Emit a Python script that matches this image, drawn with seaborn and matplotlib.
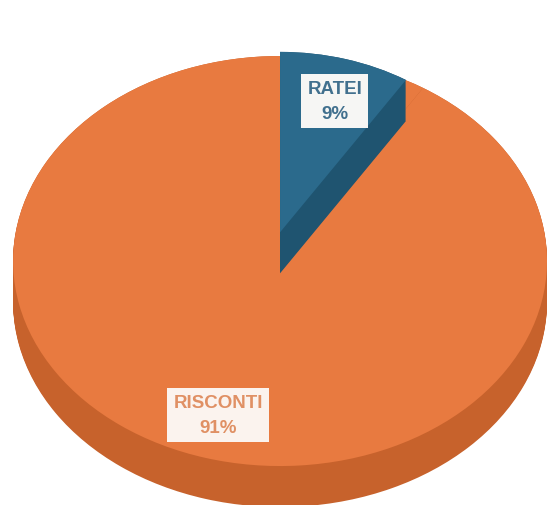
import numpy as np
import matplotlib.pyplot as plt
import seaborn as sns

# data
labels = ['RATEI', 'RISCONTI']
values = [9, 91]
pct_labels = ['9%', '91%']

# colours
top_orange = '#e87a40'
side_orange = '#c7622c'
top_blue = '#2b6a8c'
side_blue = '#1f5470'

sns.set_theme(style='white')
plt.rcParams['font.family'] = ['Liberation Sans', 'DejaVu Sans']

fig = plt.figure(figsize=(5.47, 5.06), dpi=100)
ax = fig.add_axes([0, 0, 1, 1])

depth = 0.2
pie_kw = dict(startangle=90, counterclock=False, wedgeprops=dict(linewidth=0))

# side of the big disc, stacked layers
for d in np.linspace(depth, 0, 41):
    ax.pie(values, colors=[side_orange, side_orange], center=(0, -d), radius=1, **pie_kw)
# top face
ax.pie(values, colors=[top_orange, top_orange], center=(0, 0), radius=1, **pie_kw)

# the small slice sits a bit further back
blue_y = 0.14
for d in np.linspace(depth, 0, 41):
    ax.pie(values, colors=[side_blue, 'none'], center=(0, blue_y - d), radius=0.88, **pie_kw)
ax.pie(values, colors=[top_blue, 'none'], center=(0, blue_y), radius=0.88, **pie_kw)

ax.set_aspect('auto')
ax.set_xlim(-1.049, 1.0)
ax.set_ylim(-1.19, 1.278)
ax.axis('off')

# labels
ax.text(0.612, 0.798, labels[0] + '\n' + pct_labels[0], transform=ax.transAxes,
        ha='center', va='center', color='#41708e', fontsize=13.5, fontweight='bold',
        linespacing=1.6,
        bbox=dict(boxstyle='square,pad=0.33', fc='#f6f6f4', ec='none'))
ax.text(0.399, 0.178, labels[1] + '\n' + pct_labels[1], transform=ax.transAxes,
        ha='center', va='center', color='#e09064', fontsize=13.5, fontweight='bold',
        linespacing=1.6,
        bbox=dict(boxstyle='square,pad=0.33', fc='#fbf3ee', ec='none'))

fig.savefig('out.png', dpi=100)
